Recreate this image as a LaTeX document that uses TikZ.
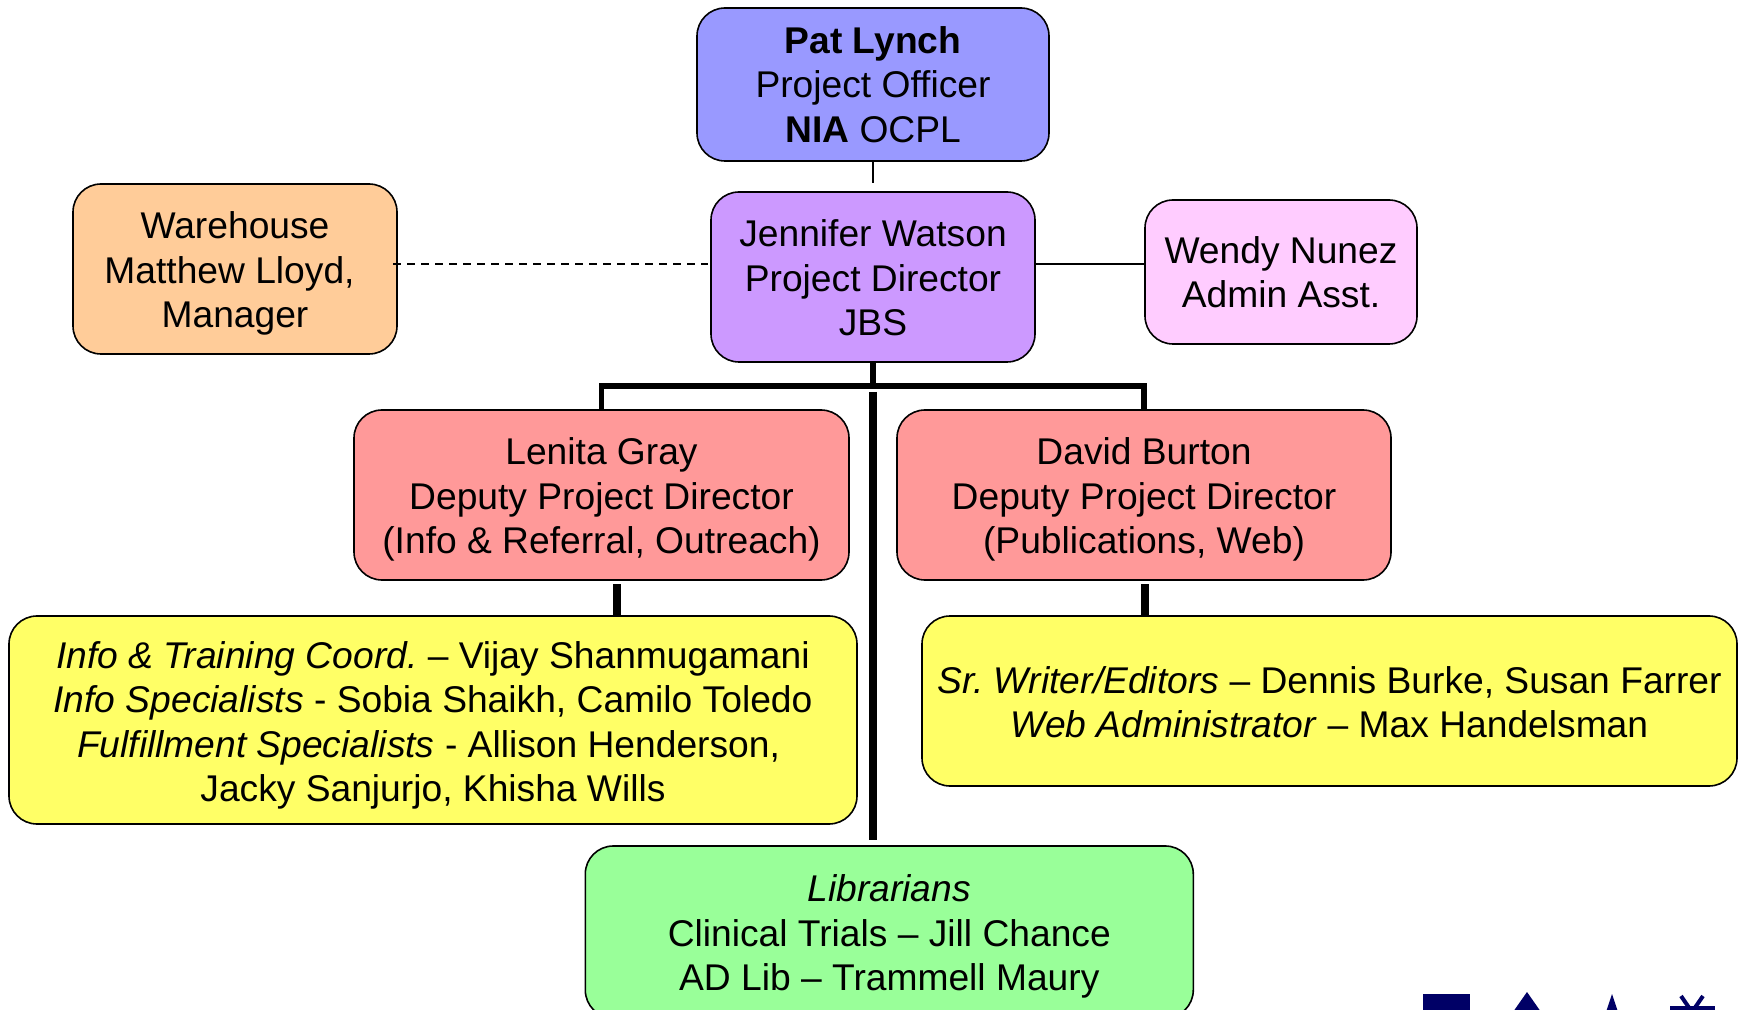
\documentclass[tikz,border=0pt]{standalone}
\usepackage{fontspec}
\setmainfont{Liberation Sans}
\definecolor{officer}{HTML}{9999FF}
\definecolor{director}{HTML}{CC99FF}
\definecolor{warehouse}{HTML}{FFCC99}
\definecolor{assistant}{HTML}{FFCCFF}
\definecolor{deputy}{HTML}{FF9999}
\definecolor{staff}{HTML}{FFFF66}
\definecolor{librarian}{HTML}{99FF99}
\definecolor{logonavy}{HTML}{000066}
\newcommand{\toppad}[1]{\rule{0pt}{#1}}
\tikzstyle{box}=[draw,line width=0.8pt,rounded corners=14pt,inner sep=0pt,align=center,font=\fontsize{18.6}{22.25}\selectfont\frenchspacing]
\tikzstyle{thin edge} = [draw,line width=0.65pt,-]
\tikzstyle{dash edge} = [draw,line width=0.65pt,-,dash pattern=on 4pt off 3pt]
\tikzstyle{bus edge} = [draw,line width=2.9pt,-]
\tikzstyle{stem edge} = [draw,line width=3.8pt,-]
\begin{document}
\begin{tikzpicture}[x=0.5pt,y=-0.5pt]
	\useasboundingbox (0,0) rectangle (1741,1010);
	\node[box,fill=officer,minimum width=176pt,minimum height=76.5pt] (pat) at (873,84.5) {\textbf{Pat Lynch}\\Project Officer\\\textbf{NIA} OCPL};
	\node[box,fill=director,minimum width=162pt,minimum height=85pt] (jennifer) at (873,277) {\toppad{14.6pt}Jennifer Watson\\Project Director\\JBS};
	\node[box,fill=warehouse,minimum width=162pt,minimum height=85pt] (warehouse) at (235,269) {\toppad{18pt}Warehouse\\Matthew Lloyd,\kern5.5pt\\Manager};
	\node[box,fill=assistant,minimum width=136pt,minimum height=72pt] (wendy) at (1281,272) {Wendy Nunez\\Admin Asst.};
	\node[box,fill=deputy,minimum width=247.5pt,minimum height=85pt] (lenita) at (601.5,495) {\toppad{18pt}Lenita Gray\\Deputy Project Director\\(Info \& Referral, Outreach)};
	\node[box,fill=deputy,minimum width=247pt,minimum height=85pt] (david) at (1144,495) {\toppad{18pt}David Burton\\Deputy Project Director\\(Publications, Web)};
	\node[box,fill=staff,minimum width=424pt,minimum height=104pt] (infostaff) at (433,720) {\toppad{19pt}\textit{Info \& Training Coord.} -- Vijay Shanmugamani\\\textit{Info Specialists} - Sobia Shaikh, Camilo Toledo\\\textit{Fulfillment Specialists} - Allison Henderson,\kern4.5pt\\Jacky Sanjurjo, Khisha Wills};
	\node[box,fill=staff,minimum width=407.5pt,minimum height=85pt] (pubstaff) at (1329.5,701) {\toppad{14.6pt}\textit{Sr. Writer/Editors} -- Dennis Burke, Susan Farrer\\\textit{Web Administrator} -- Max Handelsman};
	\node[box,fill=librarian,minimum width=304pt,minimum height=86pt] (librarians) at (889.3,932) {\toppad{18pt}\textit{Librarians}\\Clinical Trials -- Jill Chance\\AD Lib -- Trammell Maury};
	% Free ends of the connectors
	\coordinate (bus) at (873,386);
	\coordinate (dashleft) at (393,264);
	\coordinate (dashright) at (708,264);
	\coordinate (jenport) at (1035,264);
	\coordinate (wenport) at (1145,264);
	\coordinate (staffoot) at (873,392);
	\coordinate (stafftop) at (873,840);
	\coordinate (infostem) at (617,584);
	\coordinate (pubstem) at (1145,584);
	% Connect the boxes
	\path[thin edge,shorten >=4pt] (pat.south) to (jennifer.north);
	\path[thin edge] (jenport) to (wenport);
	\path[dash edge] (dashleft) to (dashright);
	\path[bus edge] (jennifer.south) to (bus);
	\path[bus edge] (lenita.north) |- (bus) -| (david.north);
	\path[stem edge] (staffoot) to (stafftop);
	\foreach \source/ \dest in {infostem/infostaff, pubstem/pubstaff}
	\path[stem edge] (\source) to (\source |- \dest.north);
	% Top of the logo, cut off by the page
	\fill[logonavy] (1423,994) rectangle (1470,1012);
	\fill[logonavy] (1527,992) -- (1541,1012) -- (1513,1012) -- cycle;
	\fill[logonavy] (1612,994) -- (1618,1012) -- (1606,1012) -- cycle;
	\draw[logonavy,line width=2pt] (1681,996) -- (1692,1012) -- (1703,996);
	\draw[logonavy,line width=2pt] (1670,1008) -- (1715,1008);
\end{tikzpicture}
\end{document}
